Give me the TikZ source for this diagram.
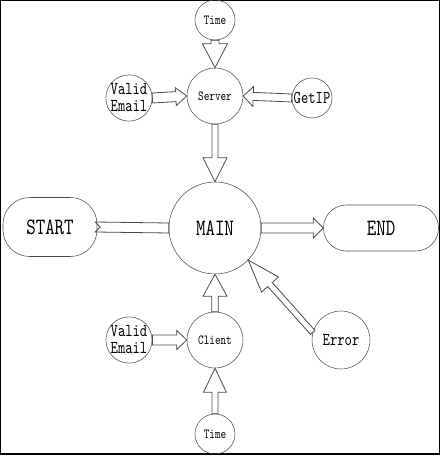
\documentclass[tikz,border=0pt]{standalone}
\usepackage{fontspec}
\usepackage{tikz}
\usetikzlibrary{calc}
\newfontfamily\stretchmono[FakeStretch=0.77]{lmmono10-regular.otf}
\newcommand{\blockfont}[2]{\stretchmono\fontsize{#1}{#2}\selectfont}

\newcommand{\fatarrow}[5]{%
	\coordinate (fa) at ($(#2)!#5!(#1)$);
	\draw [arrowline] ($(#1)!#3!90:(#2)$) -- ($(fa)!#3!90:(#2)$) -- ($(fa)!#4!90:(#2)$) -- (#2) -- ($(fa)!#4!-90:(#2)$) -- ($(fa)!#3!-90:(#2)$) -- ($(#1)!#3!-90:(#2)$) -- cycle;}

\begin{document}
\begin{tikzpicture}[x=0.75pt,y=-0.75pt,line join=miter,
		bubble/.style={draw=black!70,circle,inner sep=0pt},
		terminal/.style={draw=black!70,rectangle,inner sep=0pt,bigtext},
		arrowline/.style={draw=black!70,fill=white,line width=0.6pt},
		smalltext/.style={font=\blockfont{10.4pt}{11pt}},
		midtext/.style={font=\blockfont{13.6pt}{12.75pt},align=center},
		bigtext/.style={font=\blockfont{17.6pt}{18pt}}]
	\useasboundingbox (0,0) rectangle (441,456);
	\draw [line width=1.05pt] (0.7,0.7) rectangle (439.7,454);
		\node (time1) at (215,20) [bubble,minimum size=30pt,smalltext] {Time};
		\node (server) at (215,96) [bubble,minimum size=42pt,smalltext] {Server};
		\node (email1) at (129,98) [bubble,minimum size=34.5pt,midtext] {Valid\\Email};
		\node (getip) at (312,98) [bubble,minimum size=30pt,midtext] {GetIP};
		\node (main) at (215,228) [bubble,minimum size=69pt,bigtext] {MAIN};
		\node (start) at (50,227) [terminal,minimum width=70.5pt,minimum height=44.25pt,rounded corners=20pt] {START};
		\node (end) at (381,228) [terminal,minimum width=86.25pt,minimum height=34.5pt,rounded corners=17pt] {END};
		\node (client) at (215,340) [bubble,minimum size=42pt,smalltext] {Client};
		\node (email2) at (129,340) [bubble,minimum size=34.5pt,midtext] {Valid\\Email};
		\node (time2) at (215,434) [bubble,minimum size=30pt,smalltext] {Time};
		\node (error) at (341,340) [bubble,minimum size=43.5pt,midtext] {Error};
		\fatarrow{time1.south}{server.north}{3pt}{9.4pt}{18pt}
		\fatarrow{email1.east}{server.west}{3.75pt}{6.75pt}{8.25pt}
		\fatarrow{getip.west}{server.east}{3pt}{7.5pt}{7.5pt}
		\fatarrow{server.south}{main.north}{2.25pt}{9pt}{18pt}
		\fatarrow{main.east}{end.west}{3.75pt}{7.5pt}{7.5pt}
		\fatarrow{error.165}{main.-44}{2.25pt}{8.5pt}{24.5pt}
		\fatarrow{client.north}{main.south}{2.4pt}{9pt}{16.5pt}
		\fatarrow{time2.north}{client.south}{2.25pt}{8.6pt}{18pt}
		\fatarrow{email2.east}{client.west}{3.75pt}{7.1pt}{7.5pt}
		\draw [arrowline] ($(start.east)+(-2,-5)$) -- ($(main.west)+(0,-5)$) -- ($(main.west)+(0,5)$) -- ($(start.east)+(-2,5)$) -- ($(start.east)+(3,0)$) -- cycle;
\end{tikzpicture}
\end{document}
